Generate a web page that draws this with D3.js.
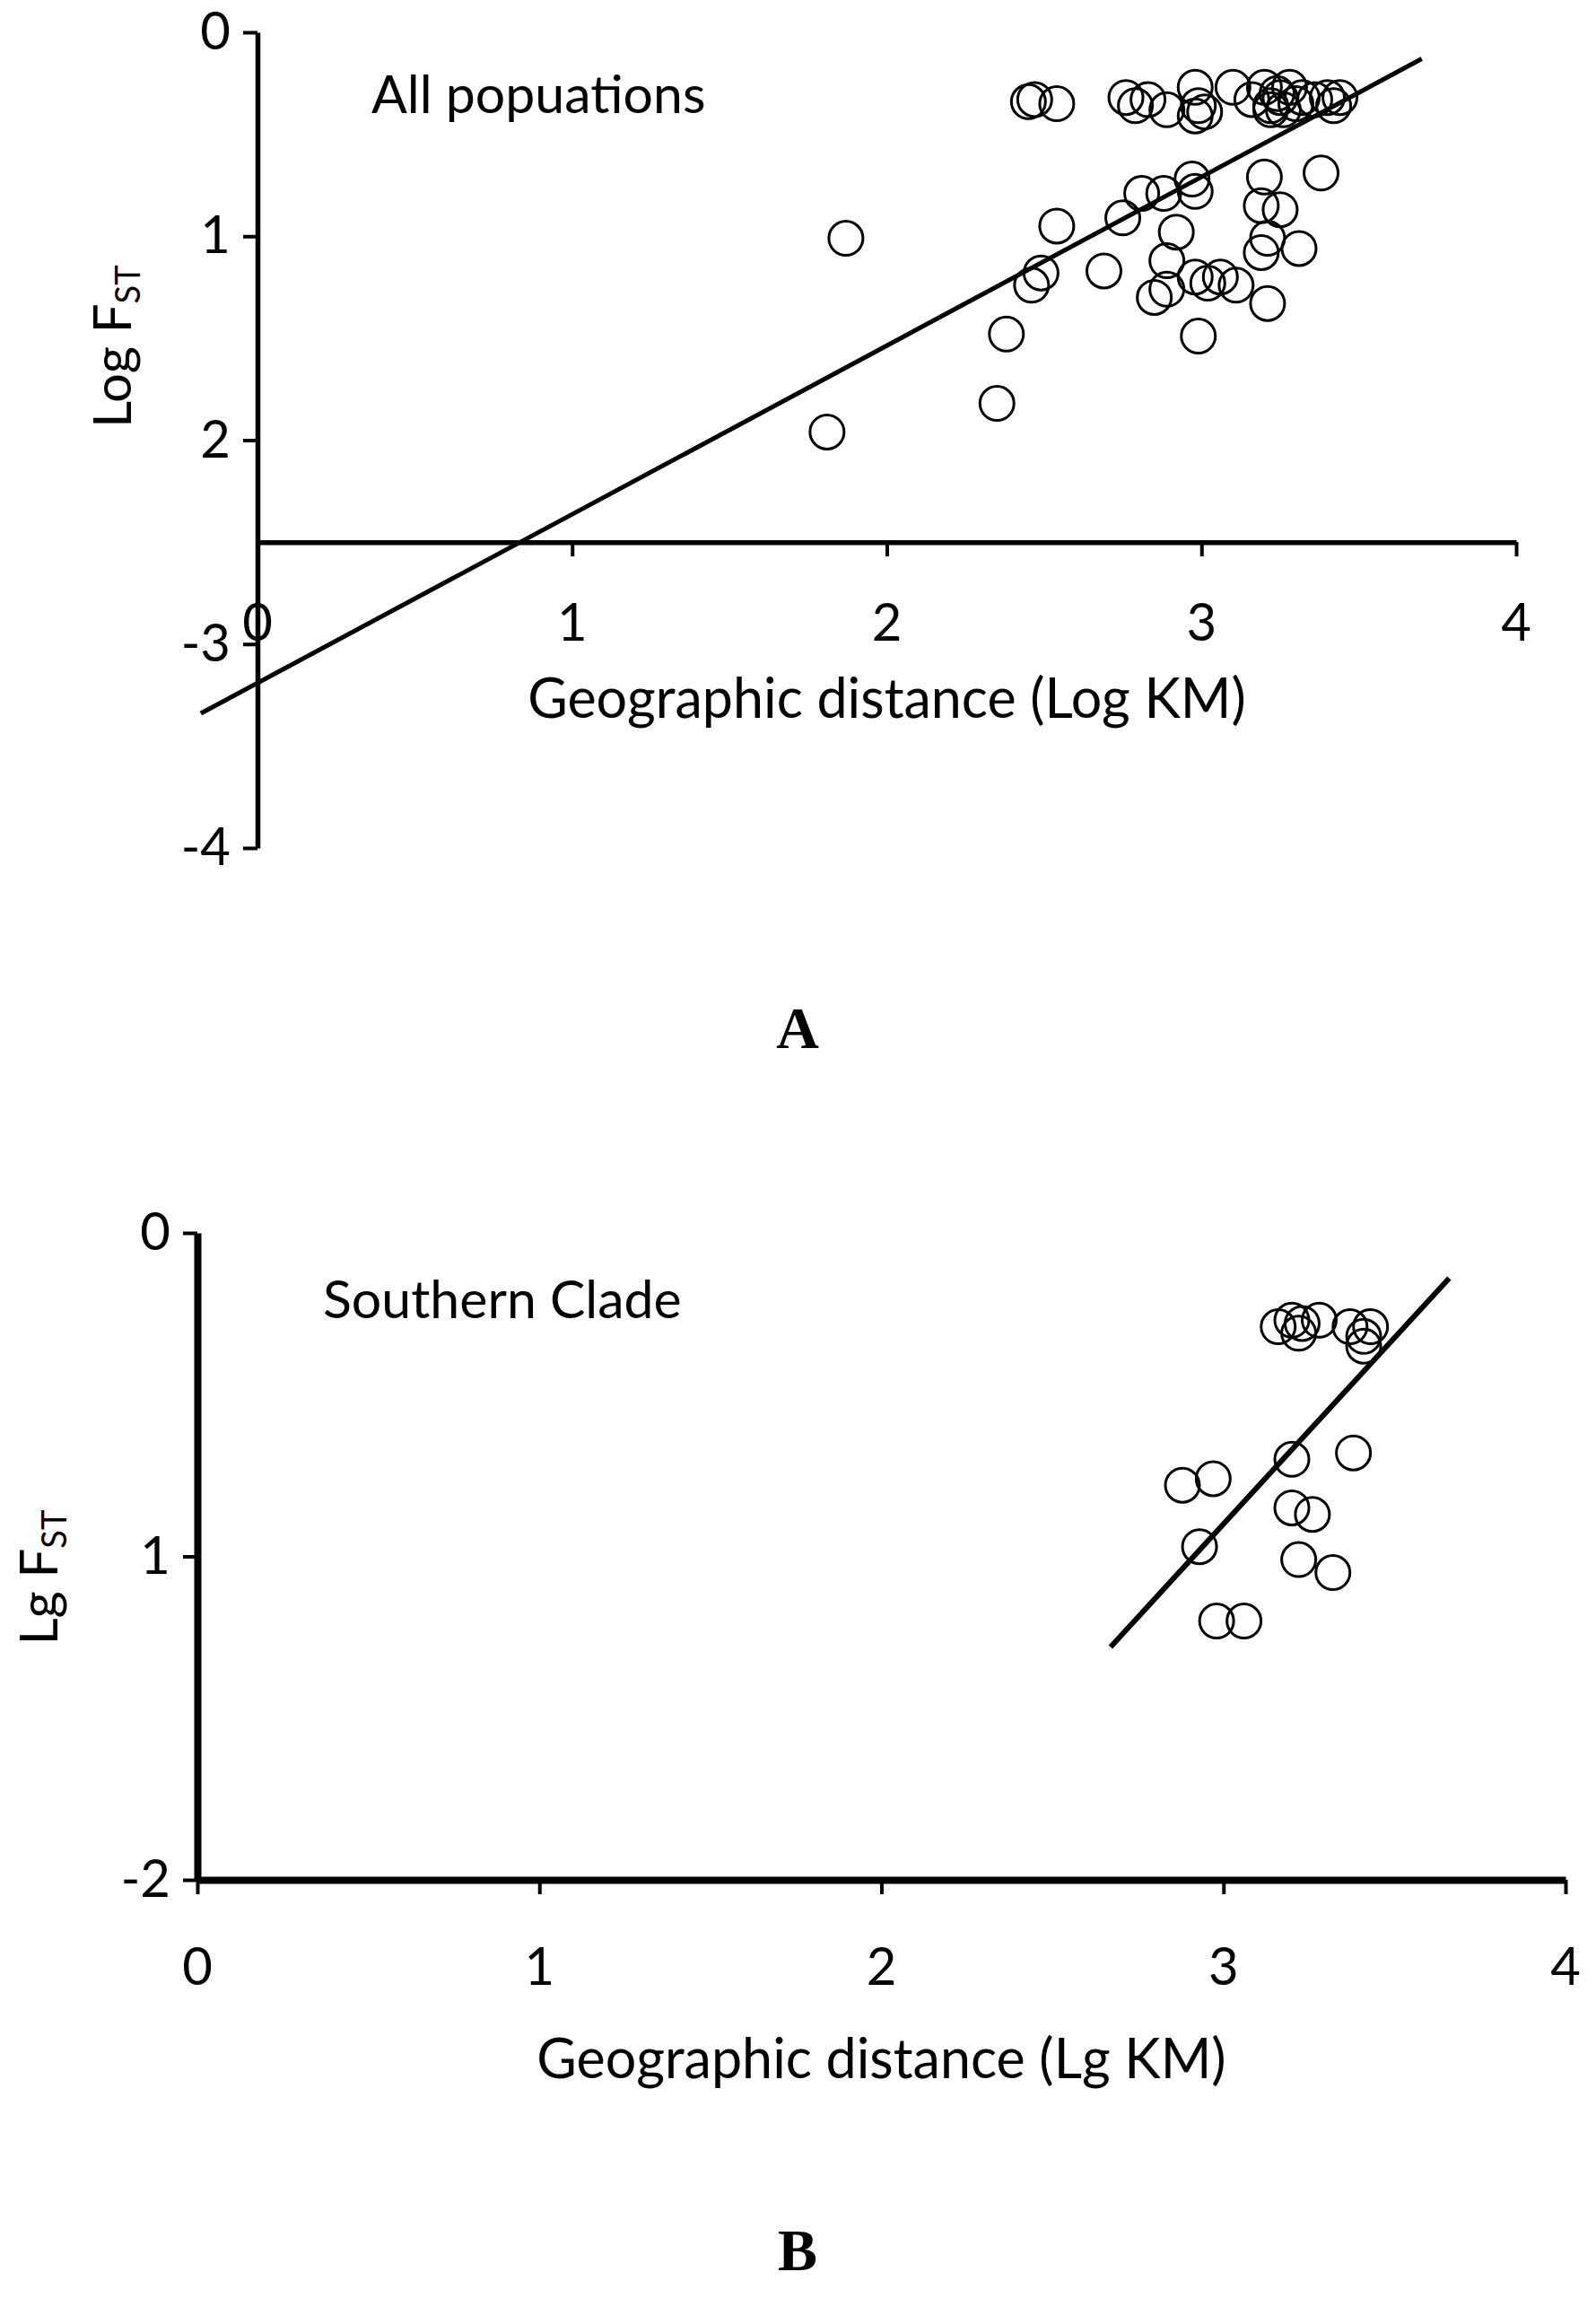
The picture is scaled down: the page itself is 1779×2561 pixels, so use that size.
<!DOCTYPE html>
<html><head><meta charset="utf-8">
<script src="https://cdn.jsdelivr.net/npm/d3@7"></script>
<style>body{margin:0;background:#fff}</style>
</head><body><svg id="c" width="1779" height="2561"></svg>
<script>
// Panel A data
const aX = [2.47,2.54,2.76,2.79,2.83,2.89,2.98,2.99,3.01,3.10,3.16,3.20,3.22,3.25,3.28,3.30,3.32,3.36,3.40,3.42,3.44,
  1.87,1.81,2.35,2.38,2.46,2.49,2.54,2.69,2.75,2.81,2.88,2.85,2.89,2.89,2.92,2.97,2.98,2.98,2.99,3.02,3.06,3.11,3.20,3.19,3.25,3.21,3.19,3.21,3.31,3.38,
  2.45,2.98,3.22,3.26,3.24];
const aY = [-0.33,-0.35,-0.32,-0.36,-0.33,-0.38,-0.27,-0.36,-0.39,-0.27,-0.33,-0.27,-0.36,-0.32,-0.27,-0.35,-0.32,-0.33,-0.32,-0.36,-0.32,
  -1.01,-1.96,-1.82,-1.48,-1.24,-1.18,-0.95,-1.17,-0.91,-0.79,-0.79,-1.30,-1.26,-1.12,-0.98,-0.72,-0.78,-1.20,-1.49,-1.23,-1.20,-1.24,-0.71,-0.85,-0.87,-1.01,-1.08,-1.33,-1.06,-0.69,
  -0.34,-0.41,-0.38,-0.38,-0.30];
const aLine = [[-0.18,-3.34],[3.70,-0.13]];
const aXTicks = [0,1,2,3,4], aXLabels = ["0","1","2","3","4"];
const aYTicks = [0,-1,-2,-3,-4], aYLabels = ["0","1","2","-3","-4"];
// Panel B data
const bX = [3.16,3.20,3.22,3.28,3.37,3.41,3.43,3.41,3.23,3.20,3.38,2.88,2.97,3.20,3.26,2.93,3.22,3.32,2.98,3.06];
const bY = [-0.29,-0.27,-0.31,-0.27,-0.29,-0.32,-0.29,-0.35,-0.28,-0.70,-0.68,-0.78,-0.76,-0.85,-0.87,-0.97,-1.01,-1.05,-1.20,-1.20];
const bLine = [[2.67,-1.28],[3.66,-0.14]];
const bXTicks = [0,1,2,3,4], bXLabels = ["0","1","2","3","4"];
const bYTicks = [0,-1,-2], bYLabels = ["0","1","-2"];

const FONT = "Lato, 'Open Sans', sans-serif";
const svg = d3.select("#c");
function panel(o){
  const x = d3.scaleLinear().domain([0,4]).range([o.x0,o.x1]);
  const y = d3.scaleLinear().domain(o.yd).range([o.y0,o.y1]);
  const g = svg.append("g").style("font-family",FONT);
  const xa = g.append("g").attr("transform",`translate(0,${y(o.xAt)})`)
    .call(d3.axisBottom(x).tickValues(o.xt).tickFormat((d,i)=>o.xl[i]).tickSize(16).tickSizeOuter(0));
  xa.select(".domain").attr("stroke-width",o.sw);
  xa.selectAll(".tick line").attr("stroke-width",4);
  xa.selectAll(".tick text").remove();
  g.selectAll(".xl").data(o.xt).join("text").attr("x",d=>x(d)).attr("y",o.xlY)
    .attr("text-anchor","middle").style("font-size","58px").text((d,i)=>o.xl[i]);
  const ya = g.append("g").attr("transform",`translate(${o.x0},0)`)
    .call(d3.axisLeft(y).tickValues(o.yt).tickFormat((d,i)=>o.yl[i]).tickSize(16).tickSizeOuter(0).tickPadding(14));
  ya.select(".domain").attr("stroke-width",o.sw);
  ya.selectAll(".tick line").attr("stroke-width",4);
  ya.selectAll(".tick text").style("font-size","58px").style("font-family",FONT).attr("fill","#000");
  g.append("line").attr("x1",x(o.line[0][0])).attr("y1",y(o.line[0][1]))
    .attr("x2",x(o.line[1][0])).attr("y2",y(o.line[1][1])).attr("stroke","#000").attr("stroke-width",o.lw);
  g.selectAll("circle").data(o.px).join("circle").attr("cx",d=>x(d)).attr("cy",(d,i)=>y(o.py[i]))
    .attr("r",19).attr("fill","none").attr("stroke","#000").attr("stroke-width",3);
  g.append("text").attr("x",o.tx).attr("y",o.ty).style("font-size","59px").text(o.title);
  g.append("text").attr("x",x(2)).attr("y",o.atY).attr("text-anchor","middle").style("font-size","61px").text(o.xTitle);
  const yl = g.append("text").attr("transform",`translate(${o.ylx},${o.yly}) rotate(-90)`).attr("text-anchor","middle").style("font-size","58px");
  yl.append("tspan").text(o.yTitle+" F");
  yl.append("tspan").style("font-size","38px").attr("dy",10).text("ST");
  g.append("text").attr("x",889).attr("y",o.letY).attr("text-anchor","middle")
    .style("font-family","'Liberation Serif', 'DejaVu Serif', serif").style("font-weight","bold").style("font-size","66px").text(o.letter);
}
panel({x0:287,x1:1690,y0:36,y1:945,yd:[0,-4],xAt:-2.5,xt:aXTicks,xl:aXLabels,yt:aYTicks,yl:aYLabels,sw:5.5,lw:5,
  line:aLine,px:aX,py:aY,title:"All popuations",tx:414,ty:126,xTitle:"Geographic distance (Log KM)",atY:800,xlY:714,
  yTitle:"Log",ylx:146,yly:386,letter:"A",letY:1168});
panel({x0:220,x1:1745,y0:1374,y1:2095,yd:[0,-2],xAt:-2,xt:bXTicks,xl:bXLabels,yt:bYTicks,yl:bYLabels,sw:8,lw:6,
  line:bLine,px:bX,py:bY,title:"Southern  Clade",tx:360,ty:1469,xTitle:"Geographic distance (Lg KM)",atY:2316,xlY:2212,
  yTitle:"Lg",ylx:64,yly:1758,letter:"B",letY:2530});
</script></body></html>
